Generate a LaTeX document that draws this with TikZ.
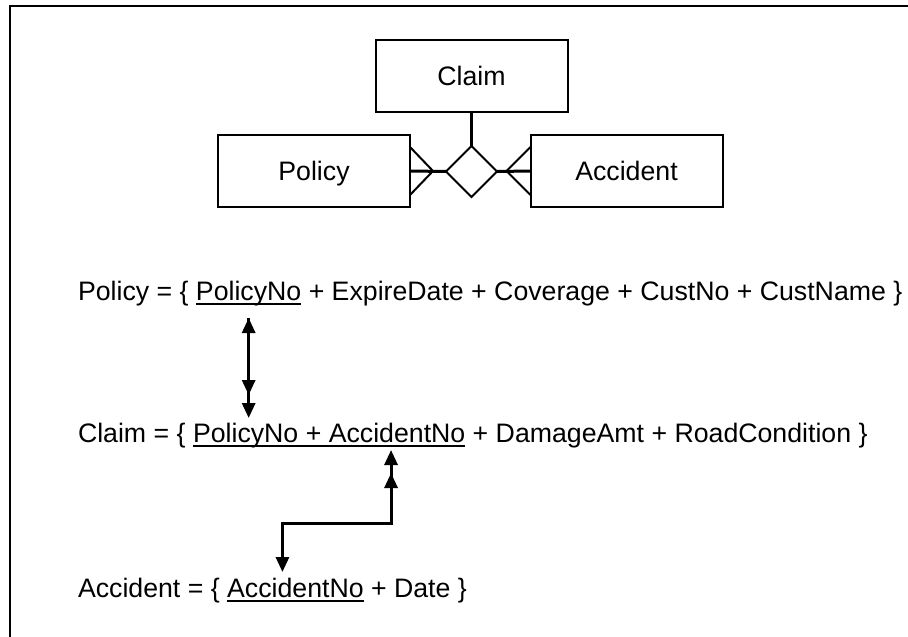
\documentclass[tikz,border=0pt]{standalone}
\usepackage{fontspec}
\setmainfont{Liberation Sans}
\usetikzlibrary{shapes.geometric,arrows.meta,calc}
\newcommand\wsp{\hbox{\ }}
\tikzset{tri/.tip={Triangle[length=15pt,width=13pt]}}
\begin{document}
\begin{tikzpicture}[x=1pt,y=-1pt,
  every node/.style={font=\fontsize{26.7}{32}\selectfont},
  txt/.style={inner sep=0pt,outer sep=0pt,anchor=base west},
  entity/.style={draw,line width=2pt,minimum width=192pt,minimum height=72pt,inner sep=0pt,outer sep=0pt,text height=19pt,text depth=0pt},
  relship/.style={draw,diamond,line width=1.8pt,minimum width=51pt,minimum height=51pt,inner sep=0pt,outer sep=0pt,aspect=1},
  link/.style={line width=3pt},
  crow/.style={line width=2pt},
  ul/.style={line width=1.6pt},
  arr/.style={line width=3pt}
]
\useasboundingbox (0,0) rectangle (908,637);
% frame (only top and left edges are visible)
\draw[line width=2.5pt] (920,6) -- (10,6) -- (10,650);

% ER diagram
\node[entity] (claimE) at (471.5,76) {Claim};
\node[entity] (policyE) at (314,171) {Policy};
\node[entity] (accE) at (626.5,171) {Accident};
\node[relship] (rel) at (471.5,171.5) {};
\draw[link] (claimE.south) -- (rel.north);
\draw[link] (policyE.east) -- (rel.west);
\draw[link] (rel.east) -- (accE.west);
\draw[crow] ($(policyE.east)+(0,-24)$) -- ($(policyE.east)+(23,0)$) -- ($(policyE.east)+(0,24)$);
\draw[crow] ($(accE.west)+(0,-24)$) -- ($(accE.west)+(-24,0)$) -- ($(accE.west)+(0,24)$);

% Policy line
\node[txt] (p0) at (78,300) {Policy = \{\wsp};
\node[txt] (p1) at (p0.base east) {PolicyNo};
\node[txt] (p2) at (p1.base east) {\wsp+ ExpireDate + Coverage + CustNo + CustName \}};
\draw[ul] ($(p1.base west)+(0,4)$) -- ($(p1.base east)+(0,4)$);

% Claim line
\node[txt] (c0) at (78,442) {Claim = \{\wsp};
\node[txt] (c1) at (c0.base east) {PolicyNo};
\node[txt] (c2) at (c1.base east) {\wsp+\wsp};
\node[txt] (c3) at (c2.base east) {AccidentNo};
\node[txt] (c4) at (c3.base east) {\wsp+ DamageAmt + RoadCondition \}};
\draw[ul] ($(c1.base west)+(0,4)$) -- ($(c3.base east)+(0,4)$);

% Accident line
\node[txt] (a0) at (78,597) {Accident = \{\wsp};
\node[txt] (a1) at (a0.base east) {AccidentNo};
\node[txt] (a2) at (a1.base east) {\wsp+ Date \}};
\draw[ul] ($(a1.base west)+(0,4)$) -- ($(a1.base east)+(0,4)$);

% Policy.PolicyNo <-> Claim.PolicyNo
\coordinate (pt) at ($(p1.base)+(0,18)$);
\coordinate (cb) at ($(pt |- c1.base)+(0,-24)$);
\draw[arr,{tri}-{tri}] (pt) -- (cb);
\draw[arr,-{tri},shorten >=23pt] (pt) -- (cb);

% Claim.AccidentNo <-> Accident.AccidentNo
\coordinate (ct) at ($(c3.base)+(-6,8)$);
\coordinate (at) at ($(a1.base)+(-13,-25)$);
\coordinate (elb) at ($(ct)+(0,73)$);
\draw[arr,{tri}-{tri}] (ct) -- (elb) -| (at);
\draw[arr,-{tri},shorten >=23pt] (elb) -- (ct);
\end{tikzpicture}
\end{document}
